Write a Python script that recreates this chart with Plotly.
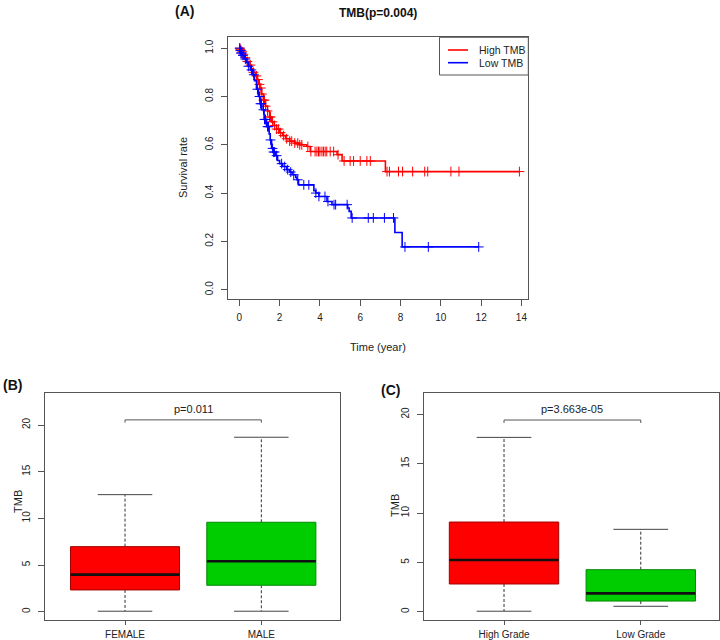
import plotly.graph_objects as go
import numpy as np

# ---------------- Data: Kaplan-Meier (A) ----------------
high_time = [0, 0.04, 0.08, 0.12, 0.2, 0.3, 0.4, 0.5, 0.6, 0.7, 0.8, 0.88, 0.95, 1.02, 1.1, 1.2, 1.3,
             1.4, 1.5, 1.6, 1.73, 1.85, 2.0, 2.15, 2.3, 2.5, 2.75, 3.0, 3.35, 3.52, 4.85, 5.1, 7.25, 13.9]
high_surv = [1.0, 0.995, 0.99, 0.985, 0.975, 0.96, 0.945, 0.93, 0.915, 0.9, 0.885, 0.87, 0.85, 0.835, 0.81,
             0.785, 0.76, 0.74, 0.715, 0.695, 0.68, 0.665, 0.65, 0.638, 0.625, 0.615, 0.607, 0.6, 0.593,
             0.572, 0.559, 0.533, 0.489, 0.489]
high_cens = [0.02, 0.05, 0.1, 0.15, 0.2, 0.3, 0.4, 0.55, 0.7, 0.85, 0.92, 1.0, 1.07, 1.12, 1.2, 1.25, 1.3,
             1.4, 1.5, 1.55, 1.65, 1.75, 1.85, 1.95, 2.05, 2.2, 2.35, 2.5, 2.6, 2.75, 2.9, 3.0, 3.1, 3.4,
             3.55, 3.76, 3.85, 3.93, 4.0, 4.1, 4.18, 4.26, 4.34, 4.51, 4.68, 4.9, 5.2, 5.5, 5.67, 6.0,
             6.33, 6.5, 7.33, 7.45, 7.9, 8.1, 8.6, 9.2, 9.35, 10.5, 10.9, 13.9]

low_time = [0, 0.03, 0.08, 0.15, 0.25, 0.35, 0.45, 0.55, 0.65, 0.75, 0.85, 0.95, 1.03, 1.12, 1.23, 1.35,
            1.48, 1.53, 1.6, 1.7, 1.8, 1.9, 2.0, 2.15, 2.35, 2.5, 2.62, 2.8, 2.86, 2.94, 3.7, 3.8, 3.95,
            4.35, 4.6, 5.38, 5.45, 5.55, 7.72, 8.08, 11.88]
low_surv = [1.0, 0.99, 0.98, 0.97, 0.955, 0.94, 0.925, 0.91, 0.89, 0.865, 0.83, 0.8, 0.77, 0.745, 0.705,
            0.675, 0.645, 0.62, 0.585, 0.57, 0.555, 0.535, 0.522, 0.51, 0.497, 0.487, 0.476, 0.465, 0.455,
            0.434, 0.41, 0.4, 0.386, 0.365, 0.352, 0.338, 0.324, 0.297, 0.237, 0.177, 0.177]
low_cens = [0.02, 0.05, 0.08, 0.12, 0.18, 0.3, 0.45, 0.6, 0.72, 0.9, 1.0, 1.05, 1.1, 1.2, 1.25, 1.3, 1.4,
            1.45, 1.55, 1.65, 1.7, 1.75, 1.85, 2.1, 2.25, 2.4, 2.55, 2.7, 2.9, 3.2, 3.45, 3.8, 3.95, 4.25,
            4.4, 4.7, 4.78, 5.35, 5.6, 6.4, 6.65, 7.2, 7.65, 8.22, 9.38, 11.88]

km_title = "TMB(p=0.004)"
km_names = ["High TMB", "Low TMB"]
km_colors = ["#FF0000", "#0000FF"]

# ---------------- Data: boxplots (B) and (C) ----------------
b_cats = ["FEMALE", "MALE"]
b_low = [0.05, 0.05]
b_q1 = [2.33, 2.83]
b_med = [3.97, 5.4]
b_q3 = [6.97, 9.58]
b_high = [12.54, 18.69]
b_p = "p=0.011"

c_cats = ["High Grade", "Low Grade"]
c_low = [0.05, 0.55]
c_q1 = [2.81, 1.08]
c_med = [5.24, 1.86]
c_q3 = [9.09, 4.26]
c_high = [17.67, 8.35]
c_p = "p=3.663e-05"

box_fill = ["#FF0000", "#00CD00"]
box_edge = ["#A00000", "#008800"]

FONT = "Liberation Sans, Arial, sans-serif"
FRAME = "#555555"

fig = go.Figure()

def step_value(times, survs, t):
    idx = np.searchsorted(np.array(times), t, side="right") - 1
    return survs[max(idx, 0)]

# KM curves
for times, survs, cens, color, name in [
    (high_time, high_surv, high_cens, km_colors[0], km_names[0]),
    (low_time, low_surv, low_cens, km_colors[1], km_names[1]),
]:
    fig.add_trace(go.Scatter(x=times, y=survs, mode="lines", line=dict(color=color, width=1.6, shape="hv"),
                             name=name, xaxis="x", yaxis="y", showlegend=False))
    fig.add_trace(go.Scatter(x=cens, y=[step_value(times, survs, t) for t in cens], mode="markers",
                             marker=dict(symbol="cross-thin", size=7, line=dict(color=color, width=1), color=color),
                             name=name + " (censored)", xaxis="x", yaxis="y", showlegend=False, hoverinfo="skip"))

def add_boxes(xa, ya, low, q1, med, q3, high, pval, bracket_y):
    w = 0.8
    for i in range(len(med)):
        c = i + 1
        fig.add_trace(go.Scatter(x=[c, c, None, c, c], y=[q3[i], high[i], None, q1[i], low[i]], mode="lines",
                                 line=dict(color="#333333", width=1, dash="3px,2px"),
                                 xaxis=xa, yaxis=ya, showlegend=False, hoverinfo="skip"))
        fig.add_trace(go.Scatter(x=[c - w / 4, c + w / 4, None, c - w / 4, c + w / 4],
                                 y=[high[i], high[i], None, low[i], low[i]], mode="lines",
                                 line=dict(color="#444444", width=1),
                                 xaxis=xa, yaxis=ya, showlegend=False, hoverinfo="skip"))
        fig.add_trace(go.Scatter(x=[c - w / 2, c + w / 2, c + w / 2, c - w / 2, c - w / 2],
                                 y=[q1[i], q1[i], q3[i], q3[i], q1[i]], mode="lines", fill="toself",
                                 fillcolor=box_fill[i], line=dict(color=box_edge[i], width=1),
                                 xaxis=xa, yaxis=ya, showlegend=False, hoverinfo="skip"))
        fig.add_trace(go.Scatter(x=[c - w / 2, c + w / 2], y=[med[i], med[i]], mode="lines",
                                 line=dict(color="#111111", width=2.6),
                                 xaxis=xa, yaxis=ya, showlegend=False, hoverinfo="skip"))
    fig.add_trace(go.Scatter(x=[1, 1, 2, 2], y=[bracket_y - 0.3, bracket_y, bracket_y, bracket_y - 0.3],
                             mode="lines", line=dict(color="#555555", width=1),
                             xaxis=xa, yaxis=ya, showlegend=False, hoverinfo="skip"))
    fig.add_annotation(x=1.5, y=bracket_y + 0.3, xref=xa, yref=ya, text=pval, showarrow=False,
                       xanchor="center", yanchor="bottom", font=dict(family=FONT, size=11, color="#222"))

add_boxes("x2", "y2", b_low, b_q1, b_med, b_q3, b_high, b_p, 20.55)
add_boxes("x3", "y3", c_low, c_q1, c_med, c_q3, c_high, c_p, 19.43)

axis_common = dict(showline=True, mirror=True, linecolor=FRAME, linewidth=1, ticks="outside",
                   tickcolor=FRAME, showgrid=False, zeroline=False,
                   tickfont=dict(family=FONT, size=10, color="#222"))

bot_dom = [1 - 620 / 640, 1 - 393 / 640]

fig.update_layout(
    width=720, height=640, margin=dict(l=0, r=0, t=0, b=0),
    paper_bgcolor="white", plot_bgcolor="white",
    font=dict(family=FONT, color="#222"), showlegend=False,
    xaxis=dict(domain=[0.317, 0.734], range=[-0.55, 14.35], tickvals=list(range(0, 15, 2)),
               anchor="y", ticklen=6, ticklabelstandoff=3, **axis_common),
    yaxis=dict(domain=[0.5323, 0.9417], range=[-0.04, 1.045], tickvals=[0, 0.2, 0.4, 0.6, 0.8, 1.0],
               ticktext=["0.0", "0.2", "0.4", "0.6", "0.8", "1.0"], tickangle=-90, anchor="x",
               ticklen=6, ticklabelstandoff=4, **axis_common),
    xaxis2=dict(domain=[0.0625, 0.4722], range=[0.413, 2.577], tickvals=[1, 2], ticktext=b_cats,
                anchor="y2", ticklen=4, ticklabelstandoff=1, **axis_common),
    yaxis2=dict(domain=bot_dom, range=[-0.89, 23.43], tickvals=[0, 5, 10, 15, 20], tickangle=-90,
                anchor="x2", ticklen=6, ticklabelstandoff=4, **axis_common),
    xaxis3=dict(domain=[0.5893, 0.9982], range=[0.417, 2.57], tickvals=[1, 2], ticktext=c_cats,
                anchor="y3", ticklen=4, ticklabelstandoff=1, **axis_common),
    yaxis3=dict(domain=bot_dom, range=[-0.84, 22.17], tickvals=[0, 5, 10, 15, 20], tickangle=-90,
                anchor="x3", ticklen=6, ticklabelstandoff=4, **axis_common),
)

def px_x(v):
    return v / 720

def px_y(v):
    return 1 - v / 640

# Legend (R-style box in the top-right corner of panel A)
fig.add_shape(type="rect", xref="paper", yref="paper", x0=px_x(439.5), x1=px_x(528.3),
              y0=px_y(75), y1=px_y(37.3), line=dict(color=FRAME, width=1), fillcolor="white", layer="above")
for k, (nm, col) in enumerate(zip(km_names, km_colors)):
    yy = 50 + k * 12.7
    fig.add_shape(type="line", xref="paper", yref="paper", x0=px_x(448), x1=px_x(468), y0=px_y(yy), y1=px_y(yy),
                  line=dict(color=col, width=1.6), layer="above")
    fig.add_annotation(x=px_x(477), y=px_y(yy), xref="paper", yref="paper", text=nm, showarrow=False,
                       xanchor="left", yanchor="middle", font=dict(family=FONT, size=10.5, color="#222"))

ann = dict(showarrow=False, xref="paper", yref="paper", xanchor="center", yanchor="middle")
def add_text(px, py, text, size, color="#222", angle=0):
    fig.add_annotation(x=px_x(px), y=px_y(py), text=text, textangle=angle,
                       font=dict(family=FONT, size=size, color=color), **ann)

add_text(185, 11, "<b>(A)</b>", 14, "#111")
add_text(378, 13, "<b>" + km_title + "</b>", 12, "#111")
add_text(13, 385, "<b>(B)</b>", 14, "#111")
add_text(390, 390, "<b>(C)</b>", 14, "#111")
add_text(183, 168, "Survival rate", 11, angle=-90)
add_text(378, 347, "Time (year)", 11)
add_text(18, 502, "TMB", 11, angle=-90)
add_text(395, 506, "TMB", 11, angle=-90)

fig.write_html("out.html", config={"displayModeBar": False},
               post_script="document.body.style.margin='0';document.body.style.padding='0';document.body.style.overflow='hidden';")
